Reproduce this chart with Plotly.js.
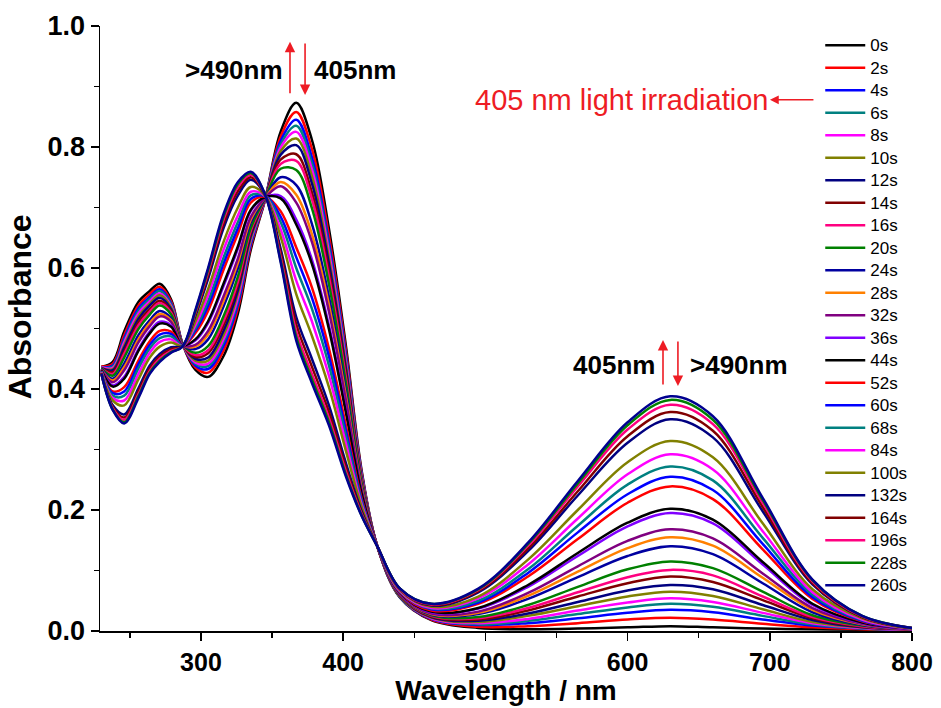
<!DOCTYPE html>
<html><head><meta charset="utf-8">
<script src="https://cdn.plot.ly/plotly-3.0.1.min.js"></script>
<style>html,body{margin:0;padding:0;background:#fff}#chart{width:941px;height:708px}</style>
</head><body><div id="chart"></div>
<script>
const wavelength = [230,238,246,256,264,271,279,287,296,305,316,326,335,345,356,367,378,390,402,413,424,440,462,495,530,565,600,630,660,695,730,765,800];

const t0s = [0.437,0.445,0.495,0.544,0.562,0.574,0.548,0.475,0.432,0.420,0.455,0.525,0.630,0.712,0.825,0.873,0.812,0.665,0.470,0.265,0.140,0.055,0.018,0.005,0.003,0.004,0.006,0.008,0.006,0.004,0.003,0.002,0.002];
const t2s = [0.437,0.442,0.489,0.538,0.557,0.569,0.545,0.475,0.436,0.427,0.464,0.533,0.635,0.712,0.817,0.858,0.797,0.653,0.462,0.262,0.140,0.056,0.019,0.007,0.008,0.013,0.019,0.022,0.019,0.012,0.006,0.003,0.002];
const t4s = [0.436,0.439,0.484,0.533,0.552,0.565,0.542,0.475,0.439,0.433,0.472,0.540,0.639,0.713,0.810,0.845,0.783,0.642,0.455,0.260,0.140,0.056,0.020,0.010,0.013,0.021,0.030,0.035,0.031,0.019,0.009,0.004,0.002];
const t6s = [0.436,0.437,0.480,0.529,0.549,0.562,0.540,0.475,0.442,0.438,0.478,0.546,0.643,0.713,0.804,0.835,0.773,0.634,0.449,0.258,0.140,0.056,0.021,0.011,0.017,0.028,0.039,0.045,0.040,0.025,0.011,0.004,0.002];
const t8s = [0.436,0.435,0.477,0.525,0.545,0.558,0.537,0.474,0.444,0.442,0.483,0.551,0.646,0.713,0.799,0.825,0.763,0.626,0.444,0.256,0.140,0.057,0.021,0.013,0.020,0.034,0.047,0.054,0.048,0.030,0.013,0.005,0.002];
const t10s = [0.435,0.433,0.472,0.520,0.541,0.555,0.535,0.474,0.447,0.447,0.490,0.558,0.649,0.714,0.793,0.814,0.752,0.616,0.438,0.254,0.140,0.057,0.022,0.015,0.025,0.041,0.057,0.065,0.058,0.036,0.015,0.006,0.002];
const t12s = [0.435,0.431,0.468,0.516,0.538,0.551,0.532,0.474,0.450,0.452,0.497,0.564,0.653,0.714,0.787,0.803,0.740,0.607,0.432,0.252,0.140,0.058,0.023,0.017,0.029,0.048,0.067,0.076,0.069,0.043,0.018,0.006,0.003];
const t14s = [0.434,0.428,0.462,0.510,0.532,0.546,0.529,0.474,0.453,0.459,0.506,0.572,0.658,0.714,0.779,0.788,0.725,0.595,0.424,0.249,0.140,0.058,0.024,0.019,0.034,0.057,0.079,0.090,0.081,0.051,0.021,0.007,0.003];
const t16s = [0.434,0.425,0.458,0.505,0.528,0.542,0.526,0.474,0.456,0.464,0.513,0.578,0.662,0.714,0.772,0.777,0.714,0.585,0.417,0.247,0.140,0.059,0.025,0.021,0.038,0.064,0.089,0.101,0.092,0.057,0.023,0.008,0.003];
const t20s = [0.434,0.422,0.452,0.499,0.523,0.538,0.523,0.474,0.460,0.471,0.521,0.586,0.666,0.715,0.764,0.762,0.699,0.573,0.409,0.244,0.140,0.059,0.026,0.023,0.043,0.073,0.102,0.115,0.104,0.065,0.026,0.009,0.003];
const t24s = [0.433,0.417,0.442,0.489,0.514,0.529,0.517,0.473,0.466,0.482,0.537,0.600,0.675,0.715,0.750,0.737,0.673,0.552,0.395,0.239,0.140,0.060,0.027,0.028,0.053,0.089,0.124,0.140,0.127,0.079,0.031,0.010,0.003];
const t28s = [0.432,0.414,0.436,0.482,0.509,0.524,0.514,0.473,0.470,0.490,0.546,0.609,0.680,0.716,0.742,0.721,0.656,0.539,0.387,0.236,0.140,0.061,0.028,0.030,0.058,0.098,0.137,0.155,0.141,0.088,0.035,0.011,0.003];
const t32s = [0.432,0.411,0.431,0.477,0.504,0.520,0.511,0.473,0.473,0.496,0.554,0.616,0.684,0.716,0.735,0.708,0.643,0.528,0.380,0.233,0.140,0.061,0.029,0.032,0.063,0.107,0.149,0.168,0.153,0.095,0.038,0.012,0.003];
const t36s = [0.431,0.406,0.420,0.466,0.495,0.511,0.505,0.473,0.480,0.509,0.571,0.632,0.694,0.717,0.719,0.680,0.614,0.505,0.364,0.228,0.140,0.062,0.031,0.037,0.073,0.124,0.173,0.195,0.178,0.110,0.043,0.013,0.003];
const t44s = [0.431,0.404,0.417,0.463,0.492,0.508,0.503,0.472,0.482,0.512,0.575,0.636,0.696,0.717,0.715,0.672,0.607,0.499,0.360,0.227,0.140,0.063,0.032,0.038,0.076,0.129,0.179,0.202,0.184,0.114,0.045,0.014,0.004];
const t52s = [0.430,0.396,0.403,0.447,0.479,0.496,0.495,0.472,0.492,0.529,0.598,0.657,0.708,0.718,0.694,0.634,0.568,0.467,0.339,0.219,0.140,0.064,0.034,0.045,0.090,0.152,0.212,0.239,0.218,0.135,0.053,0.016,0.004];
const t60s = [0.429,0.393,0.396,0.441,0.473,0.490,0.491,0.472,0.496,0.537,0.608,0.666,0.714,0.719,0.685,0.618,0.551,0.454,0.330,0.216,0.140,0.065,0.036,0.047,0.096,0.163,0.226,0.255,0.233,0.144,0.056,0.017,0.004];
const t68s = [0.429,0.389,0.389,0.434,0.467,0.484,0.487,0.472,0.500,0.545,0.618,0.676,0.720,0.719,0.676,0.600,0.533,0.439,0.321,0.213,0.140,0.065,0.037,0.050,0.102,0.174,0.242,0.272,0.249,0.154,0.060,0.018,0.004];
const t84s = [0.428,0.385,0.381,0.425,0.460,0.478,0.482,0.471,0.505,0.555,0.631,0.687,0.726,0.719,0.664,0.579,0.512,0.422,0.309,0.209,0.140,0.066,0.038,0.054,0.110,0.186,0.259,0.292,0.267,0.165,0.064,0.019,0.004];
const t100s = [0.427,0.381,0.373,0.416,0.452,0.470,0.477,0.471,0.511,0.565,0.644,0.700,0.734,0.720,0.652,0.557,0.488,0.403,0.297,0.205,0.140,0.067,0.040,0.057,0.118,0.200,0.279,0.314,0.287,0.178,0.069,0.021,0.004];
const t132s = [0.426,0.373,0.358,0.401,0.439,0.458,0.469,0.471,0.520,0.582,0.667,0.720,0.746,0.721,0.632,0.519,0.450,0.373,0.277,0.198,0.140,0.069,0.042,0.064,0.132,0.224,0.311,0.350,0.320,0.198,0.077,0.023,0.005];
const t164s = [0.426,0.370,0.353,0.396,0.434,0.454,0.466,0.470,0.523,0.588,0.674,0.727,0.750,0.721,0.625,0.507,0.437,0.362,0.270,0.195,0.140,0.069,0.043,0.066,0.136,0.231,0.322,0.362,0.331,0.205,0.079,0.023,0.005];
const t196s = [0.425,0.368,0.349,0.391,0.430,0.450,0.463,0.470,0.526,0.593,0.681,0.734,0.754,0.722,0.618,0.495,0.425,0.352,0.263,0.193,0.140,0.069,0.044,0.068,0.141,0.239,0.333,0.374,0.342,0.212,0.082,0.024,0.005];
const t228s = [0.425,0.366,0.345,0.388,0.427,0.447,0.461,0.470,0.528,0.597,0.686,0.739,0.757,0.722,0.613,0.486,0.416,0.345,0.258,0.191,0.140,0.070,0.045,0.069,0.144,0.244,0.340,0.382,0.349,0.217,0.084,0.025,0.005];
const t260s = [0.425,0.365,0.343,0.385,0.425,0.445,0.460,0.470,0.530,0.600,0.690,0.742,0.759,0.722,0.610,0.480,0.410,0.340,0.255,0.190,0.140,0.070,0.045,0.070,0.146,0.248,0.345,0.388,0.355,0.220,0.085,0.025,0.005];

const seriesNames = ['0s','2s','4s','6s','8s','10s','12s','14s','16s','20s','24s','28s','32s','36s','44s','52s','60s','68s','84s','100s','132s','164s','196s','228s','260s'];
const seriesValues = [t0s,t2s,t4s,t6s,t8s,t10s,t12s,t14s,t16s,t20s,t24s,t28s,t32s,t36s,t44s,t52s,t60s,t68s,t84s,t100s,t132s,t164s,t196s,t228s,t260s];
const seriesColors = ['#000000','#ff0000','#0000ff','#008080','#ff00ff','#808000','#000080','#800000','#ff0080','#008000','#0000a0','#ff8000','#800080','#8000ff','#000000','#ff0000','#0000ff','#008080','#ff00ff','#808000','#000080','#800000','#ff0080','#008000','#000090'];

const traces = seriesNames.map((n, i) => ({
  type: 'scatter', mode: 'lines',
  name: '<span style="font-size:17px">' + n + '</span>',
  x: wavelength, y: seriesValues[i],
  line: {color: seriesColors[i], width: 2.5, shape: 'spline', smoothing: 1}
}));

const red = '#ee1c24';
const sans = 'Liberation Sans, Arial, sans-serif';
const boldFont = {family: sans, size: 26, color: '#000', weight: 'bold'};
function arrow(x, y, ay) {
  return {x: x, y: y, xref: 'x', yref: 'y', ax: 0, ay: ay, text: '', showarrow: true,
    arrowhead: 2, arrowsize: 1.3, arrowwidth: 1.6, arrowcolor: red, standoff: 0};
}

const layout = {
  width: 941, height: 708,
  margin: {l: 100, r: 29, t: 26, b: 77},
  paper_bgcolor: '#fff', plot_bgcolor: '#fff',
  showlegend: true,
  legend: {x: 0.887, y: 0.995, xanchor: 'left', yanchor: 'top', bgcolor: 'rgba(0,0,0,0)',
    font: {family: sans, size: 15, color: '#000'}, itemwidth: 40},
  xaxis: {
    range: [229, 800], dtick: 100, tick0: 0, showgrid: false, zeroline: false,
    showline: true, linecolor: '#000', linewidth: 1.5, ticks: 'outside', ticklen: 8, tickwidth: 1.5, tickcolor: '#000',
    minor: {dtick: 50, ticks: 'outside', ticklen: 5, tickwidth: 1.5, tickcolor: '#000'},
    tickfont: {family: sans, size: 25, color: '#000', weight: 'bold'},
    title: {text: 'Wavelength / nm', standoff: 4, font: {family: sans, size: 28, color: '#000', weight: 'bold'}}
  },
  yaxis: {
    range: [0, 1.0], dtick: 0.2, tick0: 0, tickformat: '.1f', showgrid: false, zeroline: false,
    showline: true, linecolor: '#000', linewidth: 1.5, ticks: 'outside', ticklen: 8, tickwidth: 1.5, tickcolor: '#000',
    minor: {dtick: 0.1, ticks: 'outside', ticklen: 5, tickwidth: 1.5, tickcolor: '#000'},
    tickfont: {family: sans, size: 27, color: '#000', weight: 'bold'}
  },
  annotations: [
    {x: -0.0985, y: 0.535, xref: 'paper', yref: 'paper', xanchor: 'center', yanchor: 'middle',
      text: 'Absorbance', textangle: -90, showarrow: false,
      font: {family: sans, size: 32, color: '#000', weight: 'bold'}},
    {x: 323.2, y: 0.927, xref: 'x', yref: 'y', text: '>490nm', showarrow: false, font: boldFont},
    {x: 408.3, y: 0.927, xref: 'x', yref: 'y', text: '405nm', showarrow: false, font: boldFont},
    arrow(362.6, 0.974, 53),
    arrow(373.2, 0.886, -53),
    {x: 595.4, y: 0.878, xref: 'x', yref: 'y', text: '405 nm light irradiation', showarrow: false,
      font: {family: sans, size: 29, color: red}},
    {x: 700.1, y: 0.878, xref: 'x', yref: 'y', ax: 45, ay: 0, text: '', showarrow: true,
      arrowhead: 2, arrowsize: 1.1, arrowwidth: 1.6, arrowcolor: red, standoff: 0},
    {x: 590.4, y: 0.44, xref: 'x', yref: 'y', text: '405nm', showarrow: false, font: boldFont},
    {x: 678.3, y: 0.44, xref: 'x', yref: 'y', text: '>490nm', showarrow: false, font: boldFont},
    arrow(624.9, 0.481, 46),
    arrow(635.4, 0.405, -46)
  ]
};

Plotly.newPlot('chart', traces, layout, {displayModeBar: false, staticPlot: true});
</script>
</body></html>
